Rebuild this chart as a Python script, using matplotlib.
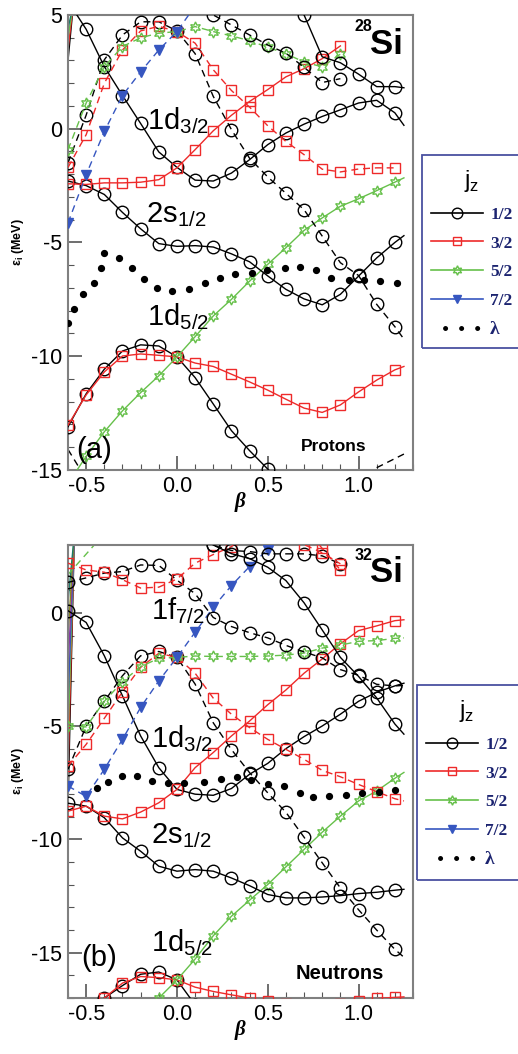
"""
Nilsson-type single particle levels for 28Si protons and 32Si neutrons
"""

import numpy as np
import matplotlib.pyplot as plt
from matplotlib.lines import Line2D
from matplotlib.patches import Rectangle

plt.rcParams['font.family'] = ['Liberation Sans', 'DejaVu Sans']
plt.rcParams['axes.unicode_minus'] = False
plt.rcParams['mathtext.fontset'] = 'custom'
plt.rcParams['mathtext.rm'] = 'Liberation Sans'

nan = np.nan

# deformation grid, last point is the line tail (no marker)
BETA = [-0.6, -0.5, -0.4, -0.3, -0.2, -0.1, 0.0, 0.1, 0.2, 0.3, 0.4, 0.5,
        0.6, 0.7, 0.8, 0.9, 1.0, 1.1, 1.2, 1.25]

# ---- 28Si protons (MeV) ----
P_D52_1 = [-13.1, -11.65, -10.57, -9.77, -9.5, -9.55, -10.03, -10.94, -12.1, -13.27,
           -14.15, -14.96, -15.8, nan, nan, nan, nan, nan, nan, nan]
P_D52_3 = [-13.03, -11.7, -10.69, -9.99, -9.9, -9.96, -10.03, -10.3, -10.45, -10.79,
           -11.13, -11.49, -11.89, -12.28, -12.47, -12.14, -11.57, -11.05, -10.6, -10.45]
P_D52_5 = [-15.6, -14.4, -13.32, -12.4, -11.6, -10.86, -10.03, -9.14, -8.23, -7.5,
           -6.7, -5.96, -5.23, -4.47, -3.92, -3.41, -3.08, -2.72, -2.35, -2.16]
P_S12_1 = [-2.3, -2.5, -2.89, -3.68, -4.4, -5.05, -5.17, -5.14, -5.2, -5.5,
           -5.85, -6.47, -7.06, -7.48, -7.74, -7.28, -6.48, -5.68, -5.0, -4.7]
P_D32_1 = [5.6, 4.37, 2.73, 1.46, 0.23, -1.02, -1.7, -2.26, -2.3, -1.95,
           -1.36, -0.7, -0.19, 0.2, 0.54, 0.83, 1.13, 1.25, 0.7, 0.15]
P_D32_3 = [-2.42, -2.45, -2.38, -2.38, -2.35, -2.24, -1.72, -0.92, -0.09, 0.59,
           1.2, 1.72, 2.28, 2.64, 3.08, 3.64, nan, nan, nan, nan]
P_F72_1 = [-1.5, 0.6, 3.03, 4.12, 4.7, 4.7, 4.3, 3.3, 1.42, -0.04,
           -1.3, -2.12, -2.84, -3.56, -4.72, -5.89, -6.45, -7.72, -8.7, -9.25]
P_F72_3 = [-1.7, -0.26, 2.0, 3.46, 4.3, 4.5, 4.27, 3.76, 2.59, 1.68,
           0.95, 0.13, -0.56, -1.14, -1.78, -1.9, -1.77, -1.72, -1.72, nan]
P_F72_5 = [-0.92, 1.13, 2.73, 3.61, 4.0, 4.2, 4.27, 4.49, 4.27, 4.08,
           3.87, 3.58, 3.3, 2.93, 2.72, 3.28, nan, nan, nan, nan]
P_F72_7 = [-4.14, -2.02, -0.12, 1.46, 2.5, 3.46, 4.27, 5.4, nan, nan,
           nan, nan, nan, nan, nan, nan, nan, nan, nan, nan]
P_UP_1A = [nan, nan, nan, nan, nan, nan, nan, 5.6, 5.0, 4.56,
           4.12, 3.68, 3.32, 2.7, 2.03, 2.2, nan, nan, nan, nan]
P_UP_1B = [nan, nan, nan, nan, nan, nan, nan, nan, nan, nan,
           nan, nan, 6.8, 5.0, 3.16, 2.9, 2.4, 1.85, 1.85, 1.8]

P_LAM_B = [-0.6, -0.566, -0.52, -0.456, -0.42, -0.40, -0.32, -0.246, -0.18, -0.108,
           -0.026, 0.066, 0.155, 0.235, 0.32, 0.414, 0.498, 0.595, 0.68, 0.765,
           0.848, 0.945, 1.03, 1.12, 1.21]
P_LAM_E = [-8.52, -7.92, -7.28, -6.77, -6.11, -5.45, -5.67, -6.11, -6.6, -7.0,
           -7.15, -7.03, -6.8, -6.55, -6.4, -6.32, -6.2, -6.14, -6.07, -6.23,
           -6.55, -6.65, -6.65, -6.7, -6.77]

P_EDGE_B = [-0.6, -0.57]
P_EDGE_E0 = [3.0, 3.5, 4.0, 4.4]
P_STUB_B = [[-0.6, -0.5], [1.1, 1.25]]
P_STUB_E = [[-14.1, -15.4], [-14.9, -14.3]]

# ---- 32Si neutrons (MeV) ----
N_D52_1 = [nan, -17.8, -17.0, -16.45, -15.95, -15.85, -16.2, -17.3, nan, nan,
           nan, nan, nan, nan, nan, nan, nan, nan, nan, nan]
N_D52_3 = [nan, -17.6, -17.0, -16.34, -16.05, -16.1, -16.2, -16.52, -16.71, -16.86,
           -17.0, -17.15, -17.25, -17.3, -17.3, -17.25, -17.15, -17.02, -16.97, -16.95]
N_D52_5 = [nan, nan, nan, nan, -17.8, -17.0, -16.2, -15.28, -14.25, -13.39,
           -12.68, -11.99, -11.21, -10.44, -9.68, -8.97, -8.3, -7.86, -7.3, -7.04]
N_S12_1 = [-8.4, -8.53, -9.04, -9.93, -10.52, -11.18, -11.4, -11.33, -11.4, -11.7,
           -12.04, -12.43, -12.58, -12.58, -12.54, -12.48, -12.39, -12.33, -12.24, -12.2]
N_D32_1 = [0.1, -0.42, -1.89, -3.66, -5.43, -6.83, -7.79, -8.0, -8.05, -7.75,
           -7.12, -6.64, -5.99, -5.46, -4.99, -4.47, -3.9, -3.5, -3.22, -3.1]
N_D32_3 = [-8.75, -8.53, -8.97, -9.09, -8.79, -8.38, -7.79, -6.83, -6.16, -5.43,
           -4.77, -4.05, -3.4, -2.66, -2.03, -1.36, -0.78, -0.57, -0.34, -0.3]
N_F72_1 = [-6.9, -5.0, -3.9, -2.77, -1.89, -1.7, -1.96, -3.14, -4.85, -6.03,
           -7.05, -7.94, -8.8, -9.9, -11.03, -12.14, -13.1, -14.0, -14.85, -15.2]
N_F72_3 = [-6.76, -5.8, -4.65, -3.48, -2.4, -1.78, -1.96, -2.66, -3.76, -4.47,
           -5.06, -5.58, -6.02, -6.46, -6.95, -7.23, -7.57, -7.89, -8.2, -8.3]
N_F72_5 = [-5.0, -5.03, -3.9, -3.03, -2.37, -2.0, -1.96, -1.9, -1.92, -1.92,
           -1.92, -1.9, -1.86, -1.77, -1.55, -1.42, -1.25, -1.22, -1.12, -1.1]
N_F72_7 = [-7.64, -8.1, -6.9, -5.58, -4.17, -3.0, -1.96, -0.85, 0.25, 1.21,
           2.05, 2.8, 3.6, nan, nan, nan, nan, nan, nan, nan]
N_P32_1 = [1.35, 1.55, 1.76, 1.83, 2.12, 2.1, 1.45, 0.85, -0.2, -0.6,
           -0.87, -1.1, -1.43, -1.72, -1.98, -2.5, -2.75, -3.15, -3.22, -3.2]
N_P32_3 = [2.2, 1.9, 1.8, 1.47, 1.1, 1.14, 1.5, 2.2, 2.58, 2.93,
           3.5, nan, nan, nan, nan, nan, nan, nan, nan, nan]
N_UP_1S = [nan, nan, nan, nan, nan, nan, nan, 3.6, 3.0, 2.62,
           2.4, 2.02, 1.43, 0.45, -0.75, -1.96, -2.8, -3.75, -4.9, -5.35]
N_UP_1D = [nan, nan, nan, nan, nan, nan, nan, 3.5, 2.98, 2.76,
           2.71, 2.61, 2.61, 2.61, 2.52, 2.17, nan, nan, nan, nan]
N_UP_3A = [nan, nan, nan, nan, nan, nan, nan, nan, nan, nan,
           nan, nan, 3.6, 3.02, 2.66, 2.17, nan, nan, nan, nan]
N_UP_3B = [nan, nan, nan, nan, nan, nan, nan, nan, nan, nan,
           nan, nan, nan, 3.8, 2.85, 1.9, nan, nan, nan, nan]

N_LAM_B = [-0.44, -0.38, -0.30, -0.22, -0.14, -0.05, 0.04, 0.15, 0.24, 0.33,
           0.41, 0.50, 0.59, 0.68, 0.75, 0.84, 0.93, 1.02, 1.11, 1.20]
N_LAM_E = [-7.74, -7.45, -7.18, -7.2, -7.4, -7.5, -7.5, -7.45, -7.35, -7.25,
           -7.37, -7.55, -7.66, -7.93, -8.14, -8.08, -8.02, -7.96, -7.9, -7.8]

N_EDGE_B = [-0.6, -0.565]
N_EDGE_E0 = [-8.5, -7.0, -5.5, -4.0, -2.5, -1.0, 0.5]
N_GREEN_STUB_B = [-0.6, -0.4]
N_GREEN_STUB_E = [1.7, 3.5]

JZ = ['1/2', '3/2', '5/2', '7/2']

PROTONS = [(P_D52_1, '1/2', '-'), (P_D52_3, '3/2', '-'), (P_D52_5, '5/2', '-'),
           (P_S12_1, '1/2', '-'), (P_D32_1, '1/2', '-'), (P_D32_3, '3/2', '-'),
           (P_F72_1, '1/2', '--'), (P_F72_3, '3/2', '--'), (P_F72_5, '5/2', '--'),
           (P_F72_7, '7/2', '--'), (P_UP_1A, '1/2', '--'), (P_UP_1B, '1/2', '-')]

NEUTRONS = [(N_D52_1, '1/2', '-'), (N_D52_3, '3/2', '-'), (N_D52_5, '5/2', '-'),
            (N_S12_1, '1/2', '-'), (N_D32_1, '1/2', '-'), (N_D32_3, '3/2', '-'),
            (N_F72_1, '1/2', '--'), (N_F72_3, '3/2', '--'), (N_F72_5, '5/2', '--'),
            (N_F72_7, '7/2', '--'), (N_P32_1, '1/2', '--'), (N_P32_3, '3/2', '--'),
            (N_UP_1S, '1/2', '-'), (N_UP_1D, '1/2', '--'),
            (N_UP_3A, '3/2', '--'), (N_UP_3B, '3/2', '--')]

RED = '#ee2a2a'
GREEN = '#66c04a'
BLUE = '#3656c0'
NAVY = '#1c2470'

STYLE = {
    '1/2': dict(color='black', marker='o', ms=9, mfc='none', mec='black'),
    '3/2': dict(color=RED, marker='s', ms=7.5, mfc='none', mec=RED),
    '5/2': dict(color=GREEN, marker=(6, 1, 0), ms=8, mfc='none', mec=GREEN),
    '7/2': dict(color=BLUE, marker='v', ms=7, mfc=BLUE, mec=BLUE),
}
DASH = (0, (5, 3.5))
MARKED = list(range(19))


def draw_levels(ax, levels):
    for energies, jz, ls in levels:
        st = STYLE[jz]
        ax.plot(BETA, energies, ls=DASH if ls == '--' else '-', lw=1.0,
                color=st['color'], marker=st['marker'], ms=st['ms'],
                mfc=st['mfc'], mec=st['mec'], mew=1.0, markevery=MARKED, zorder=3)


def style_axes(ax, ylim, yticks):
    ax.set_xlim(-0.6, 1.3)
    ax.set_ylim(*ylim)
    ax.set_xticks([-0.5, 0.0, 0.5, 1.0])
    ax.set_xticklabels(['-0.5', '0.0', '0.5', '1.0'])
    ax.set_xticks(np.arange(-0.6, 1.31, 0.1), minor=True)
    ax.set_yticks(yticks)
    ax.set_yticks(np.arange(ylim[0], ylim[1] + 0.5, 1), minor=True)
    ax.tick_params(which='both', direction='in', top=False, right=False,
                   color='#555555', labelsize=15.5, pad=4)
    ax.tick_params(which='major', length=10, width=1.2)
    ax.tick_params(which='minor', length=4, width=0.8)
    for sp in ax.spines.values():
        sp.set_color('#808080')
        sp.set_linewidth(1.5)
    ax.set_xlabel('β', family=['Liberation Serif'], style='italic', weight='bold',
                  fontsize=15, labelpad=-3)
    ax.set_ylabel('ε$_\\mathregular{i}$ (MeV)', fontsize=9, weight='bold', labelpad=4)


def add_legend(fig, ax, left_px, top_px, bottom_px):
    W, H = 518.0, 1054.0
    fig.patches.append(Rectangle((left_px / W, 1 - bottom_px / H), 0.3,
                                 (bottom_px - top_px) / H, transform=fig.transFigure,
                                 fill=False, edgecolor='#4a50a0', lw=1.3))
    handles = []
    for jz in JZ:
        st = STYLE[jz]
        handles.append(Line2D([], [], color=st['color'], lw=1.2, marker=st['marker'],
                              ms=st['ms'] * 0.85, mfc=st['mfc'], mec=st['mec']))
    handles.append(Line2D([], [], color='black', lw=3.6, ls=(0.4, (0.01, 3.2)),
                          dash_capstyle='round'))
    leg = ax.legend(handles, JZ + ['λ'], loc='upper left',
                    bbox_to_anchor=((left_px + 4) / W, 1 - (top_px + 8) / H),
                    bbox_transform=fig.transFigure, frameon=False,
                    title='j$_\\mathregular{z}$', title_fontsize=17,
                    prop={'family': 'Liberation Serif', 'weight': 'bold', 'size': 12.5},
                    labelcolor=NAVY, handlelength=3.0, handletextpad=0.4,
                    labelspacing=0.72, borderpad=0.3, borderaxespad=0)
    leg.get_texts()[-1].set_size(14)


fig = plt.figure(figsize=(5.18, 10.54), dpi=100)
ax1 = fig.add_axes([0.1313, 0.5541, 0.666, 0.4317])
ax2 = fig.add_axes([0.1313, 0.0531, 0.666, 0.4298])

# ---------------- top: 28Si protons ----------------
for e0, c in zip(P_EDGE_E0, ['black', RED, GREEN, '#1a7a6a']):
    ax1.plot(P_EDGE_B, [e0, 5.5], color=c, lw=1.0, zorder=2)
for b, e in zip(P_STUB_B, P_STUB_E):
    ax1.plot(b, e, color='black', lw=1.0, ls=DASH, zorder=2)
draw_levels(ax1, PROTONS)
ax1.plot(P_LAM_B, P_LAM_E, 'o', color='black', ms=4.2, zorder=4)
style_axes(ax1, (-15, 5), [-15, -10, -5, 0, 5])

lab = dict(fontsize=21, ha='left', va='baseline', zorder=5)
sub = '$_\\mathregular{%s}$'
ax1.text(-0.165, -0.04, '1d' + sub % '3/2', **lab)
ax1.text(-0.17, -4.12, '2s' + sub % '1/2', **lab)
ax1.text(-0.165, -8.64, '1d' + sub % '5/2', **lab)
ax1.text(-0.555, -14.47, '(a)', **lab)
ax1.text(0.68, -14.17, 'Protons', fontsize=12.5, weight='bold', ha='left', va='baseline')
ax1.text(1.245, 3.29, 'Si', fontsize=25, weight='bold', ha='right', va='baseline')
ax1.text(1.075, 4.3, '28', fontsize=11.5, weight='bold', ha='right', va='baseline')

# ---------------- bottom: 32Si neutrons ----------------
edge_cols = ['black', RED, GREEN, BLUE, '#8a3aa8', '#8a8a20', '#1a7a6a']
for e0, c in zip(N_EDGE_E0, edge_cols):
    ax2.plot(N_EDGE_B, [e0, 3.5], color=c, lw=1.0, zorder=2)
ax2.plot(N_GREEN_STUB_B, N_GREEN_STUB_E, color=GREEN, lw=1.0, ls=DASH, zorder=2)
draw_levels(ax2, NEUTRONS)
ax2.plot(N_LAM_B, N_LAM_E, 'o', color='black', ms=4.2, zorder=4)
style_axes(ax2, (-17, 3), [-15, -10, -5, 0])

ax2.text(-0.143, -0.27, '1f' + sub % '7/2', **lab)
ax2.text(-0.143, -5.94, '1d' + sub % '3/2', **lab)
ax2.text(-0.143, -10.18, '2s' + sub % '1/2', **lab)
ax2.text(-0.143, -14.94, '1d' + sub % '5/2', **lab)
ax2.text(-0.528, -15.6, '(b)', **lab)
ax2.text(0.654, -16.16, 'Neutrons', fontsize=14.5, weight='bold', ha='left', va='baseline')
ax2.text(1.245, 1.36, 'Si', fontsize=25, weight='bold', ha='right', va='baseline')
ax2.text(1.075, 2.35, '32', fontsize=11.5, weight='bold', ha='right', va='baseline')

add_legend(fig, ax1, 422, 155, 348)
add_legend(fig, ax2, 417, 685, 880)

plt.savefig('out.png', dpi=100)
plt.close()
